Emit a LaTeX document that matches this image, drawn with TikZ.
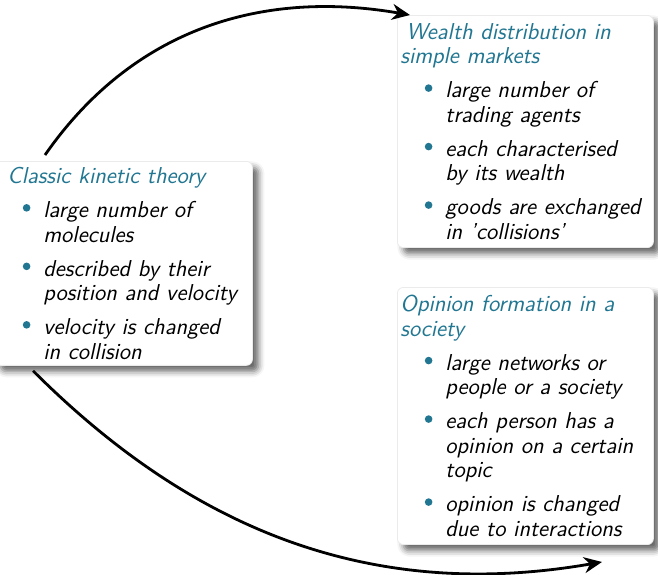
\documentclass[tikz,border=0pt]{standalone}
\usepackage{tikz}
\usetikzlibrary{arrows.meta,calc,shadows.blur}
\definecolor{struct}{RGB}{33,118,146}
\newcommand\ball{\raisebox{0.26em}{\tikz\fill[struct] (0,0) circle (1.9pt);}}
% bullet line and continuation line of an item
\newcommand\itm[2]{\hspace*{#1}\llap{\ball\hspace{6.5pt}}#2}
\newcommand\cnt[2]{\hspace*{#1}#2}
\tikzset{
  topic/.style={draw=black!8, fill=white, rounded corners=3pt, align=left,
    anchor=north west, inner xsep=1.5pt, inner ysep=4pt,
    font=\fontsize{11.5}{12.25}\selectfont\sffamily\itshape,
    blur shadow={shadow xshift=3pt, shadow yshift=-3pt,
      shadow blur radius=3pt, shadow opacity=60}},
  flow/.style={-{Stealth[length=9pt,width=8pt]}, line width=1.4pt},
}
\begin{document}
\begin{tikzpicture}[x=0.5pt,y=-0.5pt]
  \useasboundingbox (0,0) rectangle (658,574);

  %%%%% boxes %%%%%
  \node[topic, inner xsep=6.5pt, inner ysep=3pt, text width=116pt] (kin) at (-6,161) {%
    {\color{struct}Classic kinetic theory}\\[4.75pt]
    \itm{18pt}{large number of}\\
    \cnt{18pt}{molecules}\\[4.75pt]
    \itm{18pt}{described by their}\\
    \cnt{18pt}{position and velocity}\\[4.75pt]
    \itm{18pt}{velocity is changed}\\
    \cnt{18pt}{in collision}};

  \node[topic, text width=125pt] (wealth) at (397,15) {%
    {\color{struct}\hspace*{3pt}Wealth distribution in}\\
    {\color{struct}simple markets}\\[4.75pt]
    \itm{22.5pt}{large number of}\\
    \cnt{22.5pt}{trading agents}\\[4.75pt]
    \itm{22.5pt}{each characterised}\\
    \cnt{22.5pt}{by its wealth}\\[4.75pt]
    \itm{22.5pt}{goods are exchanged}\\
    \cnt{22.5pt}{in 'collisions'}};

  \node[topic, text width=125pt] (opinion) at (397,287) {%
    {\color{struct}Opinion formation in a}\\
    {\color{struct}society}\\[4.75pt]
    \itm{22.5pt}{large networks or}\\
    \cnt{22.5pt}{people or a society}\\[4.75pt]
    \itm{22.5pt}{each person has a}\\
    \cnt{22.5pt}{opinion on a certain}\\
    \cnt{22.5pt}{topic}\\[4.75pt]
    \itm{22.5pt}{opinion is changed}\\
    \cnt{22.5pt}{due to interactions}};

  %%%%% arrows %%%%%
  \coordinate (up0) at ($(kin.north west)+(51,-6)$);
  \coordinate (up1) at ($(wealth.north west)+(13,0)$);
  \coordinate (dn0) at ($(kin.south west)+(39,5)$);
  \coordinate (dn1) at ($(opinion.south west)+(205,17)$);

  \draw[flow] (up0) .. controls +(87,-125) and +(-150,-26) .. (up1);
  \draw[flow] (dn0) .. controls +(160,160) and +(-230,40) .. (dn1);
\end{tikzpicture}
\end{document}
